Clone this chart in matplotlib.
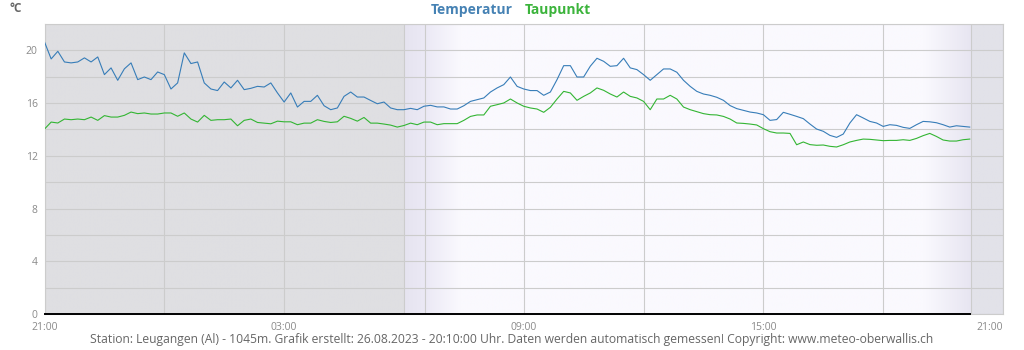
import numpy as np
import pandas as pd
import matplotlib
matplotlib.use("Agg")
import matplotlib.pyplot as plt
import matplotlib.dates as mdates
from matplotlib.colors import to_rgb

# 10-minute readings, 25.08.2023 21:00 .. 26.08.2023 20:10
temperatur = [
    20.64, 19.35, 19.93, 19.12, 19.05, 19.12, 19.43, 19.12, 19.5, 18.16,
    18.67, 17.73, 18.6, 19.05, 17.78, 17.98, 17.78, 18.36, 18.16, 17.07,
    17.53, 19.81, 19.0, 19.12, 17.53, 17.07, 16.95, 17.6, 17.15, 17.73,
    17.02, 17.12, 17.27, 17.22, 17.53, 16.77, 16.08, 16.77, 15.7, 16.13,
    16.13, 16.59, 15.8, 15.5, 15.63, 16.51, 16.84, 16.46, 16.46, 16.2,
    15.95, 16.08, 15.63, 15.5, 15.5, 15.6, 15.5, 15.76, 15.83, 15.71,
    15.71, 15.55, 15.55, 15.8, 16.13, 16.26, 16.39, 16.84, 17.15, 17.4,
    17.98, 17.27, 17.07, 16.95, 16.95, 16.59, 16.84, 17.78, 18.84, 18.84,
    17.98, 17.98, 18.8, 19.4, 19.17, 18.79, 18.84, 19.4, 18.67, 18.54,
    18.16, 17.73, 18.16, 18.59, 18.59, 18.34, 17.73, 17.27, 16.89, 16.69,
    16.59, 16.44, 16.21, 15.81, 15.58, 15.45, 15.32, 15.25, 15.12, 14.69,
    14.75, 15.3, 15.15, 14.99, 14.82, 14.41, 14.03, 13.86, 13.55, 13.4,
    13.65, 14.49, 15.12, 14.87, 14.61, 14.49, 14.23, 14.36, 14.31, 14.16,
    14.08, 14.36, 14.61, 14.58, 14.51, 14.36, 14.18, 14.28, 14.23, 14.18,
]
taupunkt = [
    14.03, 14.56, 14.49, 14.79, 14.74, 14.79, 14.74, 14.94, 14.69, 15.05,
    14.94, 14.94, 15.07, 15.32, 15.2, 15.25, 15.17, 15.17, 15.25, 15.25,
    15.0, 15.25, 14.79, 14.56, 15.07, 14.69, 14.74, 14.74, 14.79, 14.28,
    14.69, 14.79, 14.53, 14.48, 14.43, 14.63, 14.58, 14.58, 14.36, 14.48,
    14.48, 14.74, 14.61, 14.53, 14.58, 15.0, 14.84, 14.63, 14.91, 14.48,
    14.48, 14.41, 14.33, 14.18, 14.3, 14.48, 14.36, 14.56, 14.56, 14.36,
    14.44, 14.44, 14.44, 14.69, 14.99, 15.1, 15.1, 15.76, 15.88, 16.01,
    16.31, 16.01, 15.76, 15.63, 15.55, 15.3, 15.68, 16.31, 16.89, 16.77,
    16.21, 16.51, 16.77, 17.15, 16.97, 16.69, 16.46, 16.84, 16.51, 16.39,
    16.13, 15.5, 16.31, 16.31, 16.59, 16.31, 15.7, 15.5, 15.35, 15.2,
    15.12, 15.1, 14.99, 14.79, 14.49, 14.46, 14.41, 14.34, 14.06, 13.83,
    13.73, 13.73, 13.7, 12.84, 13.05, 12.85, 12.8, 12.82, 12.72, 12.67,
    12.84, 13.05, 13.17, 13.27, 13.25, 13.2, 13.15, 13.17, 13.17, 13.22,
    13.17, 13.32, 13.53, 13.7, 13.47, 13.2, 13.12, 13.12, 13.22, 13.27,
]
zeiten = pd.date_range("2023-08-25 21:00", periods=len(temperatur), freq="10min")

start = pd.Timestamp("2023-08-25 21:00")
ende = pd.Timestamp("2023-08-26 21:00")
sonnenaufgang = pd.Timestamp("2023-08-26 06:32")
sonnenuntergang = pd.Timestamp("2023-08-26 20:12")

footer = ("Station: Leugangen (Al) - 1045m. Grafik erstellt: 26.08.2023 - 20:10:00 Uhr. "
          "Daten werden automatisch gemessen! Copyright: www.meteo-oberwallis.ch")

plt.rcParams["font.family"] = ["Open Sans", "DejaVu Sans"]

fig = plt.figure(figsize=(10.24, 3.5), dpi=100)
ax = fig.add_axes([44.5 / 1024, 1 - 314 / 350, (1003 - 44.5) / 1024, 290 / 350])

# background: night / twilight / day gradient
stops = [
    (0.0, "#dfdfe2"), (9.0, "#dfdfe2"), (9.0, "#e6e4f0"), (9.52, "#ebe9f5"),
    (10.4, "#faf9fe"), (22.0, "#faf9fe"), (23.2, "#e7e5f1"), (23.2, "#e2e2e9"),
    (24.0, "#e2e2e9"),
]
hh = np.linspace(0, 24, 1200)
sx = [s[0] for s in stops]
cols = np.array([to_rgb(s[1]) for s in stops])
img = np.stack([np.interp(hh, sx, cols[:, k]) for k in range(3)], axis=-1)[None, :, :]
x0, x1 = mdates.date2num(start), mdates.date2num(ende)
ax.imshow(img, extent=(x0, x1, 0, 22), aspect="auto", zorder=0, interpolation="bilinear")

ax.plot(zeiten, temperatur, color="#377db8", lw=0.8, zorder=3)
ax.plot(zeiten, taupunkt, color="#33b533", lw=0.8, zorder=3)
ax.plot([zeiten[0], zeiten[-1]], [0, 0], color="black", lw=1.4, zorder=4, clip_on=False)

ax.set_xlim(start, ende)
ax.set_ylim(0, 22)
ax.xaxis.set_major_locator(mdates.HourLocator(byhour=[3, 9, 15, 21]))
ax.xaxis.set_major_formatter(mdates.DateFormatter("%H:%M"))
ax.xaxis.set_minor_locator(mdates.HourLocator(byhour=range(0, 24, 3)))
ax.yaxis.set_major_locator(plt.MultipleLocator(4))
ax.yaxis.set_minor_locator(plt.MultipleLocator(2))
ax.grid(which="both", color="#cccccc", lw=0.8, zorder=1)
for t in (sonnenaufgang, sonnenuntergang):
    ax.axvline(t, color="#cccccc", lw=0.8, zorder=1)
ax.set_axisbelow(True)

ax.tick_params(which="both", length=0, labelsize=7.5, labelcolor="#8a8a8a")
ax.tick_params(axis="x", pad=6)
ax.tick_params(axis="y", pad=5)
for s in ax.spines.values():
    s.set_color("#cccccc")
    s.set_linewidth(0.8)

fig.canvas.draw()
lbls = ax.get_xticklabels()
lbls[-1].set_horizontalalignment("right")

fig.text(10 / 1024, 1 - 9 / 350, "°C", fontsize=8.5, color="#666666", fontweight="bold", va="center")
fig.text(513 / 1024, 1 - 10 / 350, "Temperatur", fontsize=10, color="#4682b4",
         fontweight="bold", ha="right", va="center")
fig.text(525 / 1024, 1 - 10 / 350, "Taupunkt", fontsize=10, color="#3cb43c",
         fontweight="bold", ha="left", va="center")
fig.text(512 / 1024, 1 - 339 / 350, footer, fontsize=8.7, color="#666666", ha="center", va="center")

fig.savefig("out.png", dpi=100)
